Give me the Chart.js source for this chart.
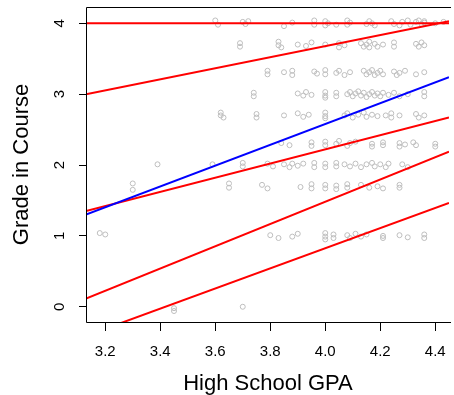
<!DOCTYPE html>
<html>
<head>
<meta charset="utf-8">
<script src="https://cdn.jsdelivr.net/npm/chart.js@4.4.1/dist/chart.umd.min.js"></script>
<style>
  html, body { margin: 0; padding: 0; background: #fff; }
  #wrap { width: 454px; height: 395px; }
</style>
</head>
<body>
<div id="wrap"><canvas id="myChart" width="454" height="395"></canvas></div>
<script>
'use strict';

// axis ticks
let xTicks = [3.2, 3.4, 3.6, 3.8, 4.0, 4.2, 4.4];
let yTicks = [0, 1, 2, 3, 4];
let xLo = 3.13;
let xHi = 4.45;

// fitted lines: value at xLo and at xHi
let lineNames = ['top', 'q2', 'ols', 'q3', 'q4', 'q5'];
let lineLeft = [4.0, 3.0, 1.30, 1.35, 0.115, -0.41];
let lineRight = [4.0, 4.03, 3.24, 2.67, 2.19, 1.466];
let lineColors = ['#ff0000', '#ff0000', '#0000ff', '#ff0000', '#ff0000', '#ff0000'];

// students: [high school gpa, grade in course] (jittered)
let g40 = [[3.60, 4.04], [3.61, 3.98], [3.70, 4.02], [3.71, 3.99], [3.72, 4.03], [3.85, 3.96], [3.88, 4.01],
  [3.96, 4.04], [3.96, 3.98], [4.00, 4.03], [4.00, 3.97], [4.01, 4.0], [4.04, 3.98], [4.08, 4.04], [4.08, 3.98],
  [4.09, 4.01], [4.15, 3.99], [4.16, 4.03], [4.17, 4.0], [4.18, 3.97], [4.24, 4.03], [4.25, 3.99], [4.27, 3.97],
  [4.28, 4.02], [4.30, 4.04], [4.31, 3.98], [4.33, 4.02], [4.34, 4.04], [4.35, 3.99], [4.36, 4.03], [4.36, 4.01],
  [4.40, 4.0], [4.43, 4.02]];
let g37 = [[3.69, 3.72], [3.69, 3.67], [3.83, 3.74], [3.83, 3.69], [3.84, 3.66], [3.90, 3.70], [3.93, 3.68],
  [3.95, 3.73], [4.00, 3.70], [4.05, 3.72], [4.05, 3.66], [4.07, 3.69], [4.13, 3.72], [4.14, 3.67], [4.15, 3.70],
  [4.16, 3.74], [4.16, 3.66], [4.18, 3.71], [4.19, 3.67], [4.21, 3.70], [4.25, 3.73], [4.25, 3.67], [4.33, 3.71],
  [4.34, 3.67], [4.35, 3.73], [4.36, 3.69]];
let g33 = [[3.79, 3.33], [3.79, 3.28], [3.85, 3.31], [3.88, 3.33], [3.88, 3.27], [3.96, 3.32], [3.97, 3.29],
  [4.00, 3.34], [4.00, 3.28], [4.04, 3.30], [4.05, 3.33], [4.07, 3.27], [4.09, 3.31], [4.14, 3.33], [4.15, 3.28],
  [4.16, 3.31], [4.17, 3.34], [4.18, 3.27], [4.19, 3.30], [4.20, 3.33], [4.21, 3.28], [4.25, 3.32], [4.26, 3.27],
  [4.27, 3.30], [4.29, 3.33], [4.33, 3.28], [4.36, 3.31]];
let g30 = [[3.74, 3.02], [3.74, 2.97], [3.90, 3.01], [3.92, 2.98], [3.93, 3.03], [3.95, 2.99], [4.00, 3.03],
  [4.00, 2.98], [4.00, 2.95], [4.04, 3.02], [4.04, 2.97], [4.08, 3.0], [4.09, 3.03], [4.10, 2.97], [4.11, 3.01],
  [4.12, 3.04], [4.13, 2.98], [4.14, 3.02], [4.15, 2.96], [4.16, 3.0], [4.17, 3.03], [4.18, 2.98], [4.19, 3.01],
  [4.20, 2.97], [4.21, 3.02], [4.23, 2.99], [4.25, 3.02], [4.27, 2.97], [4.30, 3.0], [4.36, 3.03], [4.36, 2.97]];
let g27 = [[3.62, 2.74], [3.62, 2.70], [3.63, 2.67], [3.75, 2.72], [3.75, 2.67], [3.85, 2.70], [3.90, 2.73],
  [3.92, 2.68], [3.94, 2.71], [4.00, 2.74], [4.00, 2.69], [4.00, 2.66], [4.07, 2.70], [4.08, 2.73], [4.10, 2.67],
  [4.12, 2.71], [4.14, 2.74], [4.15, 2.68], [4.17, 2.71], [4.19, 2.69], [4.22, 2.70], [4.24, 2.73], [4.24, 2.67],
  [4.27, 2.70], [4.33, 2.72], [4.34, 2.67], [4.36, 2.70]];
let g23 = [[3.84, 2.31], [3.87, 2.28], [3.95, 2.32], [3.95, 2.27], [4.00, 2.33], [4.00, 2.28], [4.04, 2.30],
  [4.05, 2.34], [4.08, 2.27], [4.09, 2.31], [4.11, 2.33], [4.17, 2.30], [4.17, 2.26], [4.21, 2.32], [4.21, 2.28],
  [4.27, 2.31], [4.27, 2.26], [4.29, 2.29], [4.32, 2.32], [4.33, 2.28], [4.40, 2.30], [4.40, 2.26]];
let g20 = [[3.39, 2.01], [3.59, 2.01], [3.70, 2.03], [3.70, 1.98], [3.79, 2.02], [3.81, 1.98], [3.85, 2.01],
  [3.87, 1.97], [3.88, 2.02], [3.90, 1.99], [3.92, 2.02], [3.96, 2.03], [3.96, 1.97], [4.00, 2.02], [4.00, 1.97],
  [4.04, 2.03], [4.04, 1.98], [4.07, 2.01], [4.09, 1.98], [4.11, 2.02], [4.13, 1.97], [4.15, 2.01], [4.17, 2.03],
  [4.18, 1.98], [4.20, 2.01], [4.22, 1.97], [4.23, 2.02], [4.28, 2.01], [4.30, 1.97]];
let g17 = [[3.30, 1.74], [3.30, 1.65], [3.65, 1.74], [3.65, 1.68], [3.77, 1.72], [3.79, 1.67], [3.91, 1.69],
  [3.95, 1.73], [3.95, 1.67], [4.00, 1.72], [4.00, 1.67], [4.04, 1.71], [4.04, 1.66], [4.08, 1.73], [4.08, 1.68],
  [4.13, 1.72], [4.16, 1.68], [4.19, 1.70], [4.21, 1.67], [4.27, 1.72], [4.27, 1.68]];
let g10 = [[3.18, 1.04], [3.20, 1.02], [3.80, 1.01], [3.83, 0.97], [3.88, 0.99], [3.90, 1.03], [4.00, 1.04],
  [4.00, 0.99], [4.00, 0.95], [4.03, 1.02], [4.03, 0.97], [4.08, 1.01], [4.09, 0.97], [4.11, 1.03], [4.13, 0.99],
  [4.15, 1.02], [4.21, 1.0], [4.21, 0.97], [4.27, 1.01], [4.30, 0.98], [4.36, 1.02], [4.36, 0.97]];
let g00 = [[3.45, -0.02], [3.45, -0.06], [3.70, 0.0]];

let students = [].concat(g40, g37, g33, g30, g27, g23, g20, g17, g10, g00);

let datasets = [];
for (let i = 0; i < lineNames.length; i++) {
  datasets.push({
    type: 'line',
    label: lineNames[i],
    data: [{ x: xLo, y: lineLeft[i] }, { x: xHi, y: lineRight[i] }],
    borderColor: lineColors[i],
    borderWidth: 2,
    pointRadius: 0,
    fill: false,
    order: 1
  });
}
datasets.push({
  type: 'scatter',
  label: 'students',
  data: students.map(function (p) { return { x: p[0], y: p[1] }; }),
  pointStyle: 'circle',
  pointRadius: 2.5,
  pointBorderWidth: 1,
  pointBorderColor: '#bebebe',
  pointBackgroundColor: 'rgba(0,0,0,0)',
  order: 2
});

let font = '"Liberation Sans", Arial, Helvetica, sans-serif';

// R-style box and labels
let rAxes = {
  id: 'rAxes',
  afterDraw: function (chart) {
    let ctx = chart.ctx;
    let a = chart.chartArea;
    let xs = chart.scales.x;
    let ys = chart.scales.y;
    ctx.save();
    ctx.strokeStyle = '#000';
    ctx.lineWidth = 1;
    ctx.beginPath();
    ctx.moveTo(a.right + 2, a.top + 0.5);
    ctx.lineTo(a.left + 0.5, a.top + 0.5);
    ctx.lineTo(a.left + 0.5, a.bottom + 0.5);
    ctx.lineTo(a.right + 2, a.bottom + 0.5);
    ctx.stroke();

    ctx.fillStyle = '#000';
    ctx.font = '15px ' + font;
    ctx.textAlign = 'center';
    ctx.textBaseline = 'alphabetic';
    xTicks.forEach(function (t) {
      ctx.fillText(t.toFixed(1), xs.getPixelForValue(t), 356);
    });
    yTicks.forEach(function (t) {
      ctx.save();
      ctx.translate(64, ys.getPixelForValue(t));
      ctx.rotate(-Math.PI / 2);
      ctx.fillText(String(t), 0, 0);
      ctx.restore();
    });

    ctx.font = '22px ' + font;
    ctx.fillText('High School GPA', 268, 390);
    ctx.save();
    ctx.translate(28, (a.top + a.bottom) / 2);
    ctx.rotate(-Math.PI / 2);
    ctx.fillText('Grade in Course', 0, 0);
    ctx.restore();
    ctx.restore();
  }
};

let ctx = document.getElementById('myChart').getContext('2d');
let myChart = new Chart(ctx, {
  data: { datasets: datasets },
  options: {
    responsive: false,
    animation: false,
    layout: { padding: { top: 7, right: 0, left: 0, bottom: 0 } },
    plugins: { legend: { display: false }, tooltip: { enabled: false } },
    scales: {
      x: {
        type: 'linear',
        min: xLo,
        max: xHi,
        afterBuildTicks: function (scale) {
          scale.ticks = xTicks.map(function (v) { return { value: v }; });
        },
        afterFit: function (scale) { scale.height = 73; },
        ticks: { display: false },
        border: { display: false },
        grid: { drawOnChartArea: false, drawTicks: true, tickLength: 9, color: '#000', lineWidth: 1 }
      },
      y: {
        type: 'linear',
        min: -0.215,
        max: 4.23,
        afterBuildTicks: function (scale) {
          scale.ticks = yTicks.map(function (v) { return { value: v }; });
        },
        afterFit: function (scale) { scale.width = 86; },
        ticks: { display: false },
        border: { display: false },
        grid: { drawOnChartArea: false, drawTicks: true, tickLength: 7, color: '#000', lineWidth: 1 }
      }
    }
  },
  plugins: [rAxes]
});
</script>
</body>
</html>
